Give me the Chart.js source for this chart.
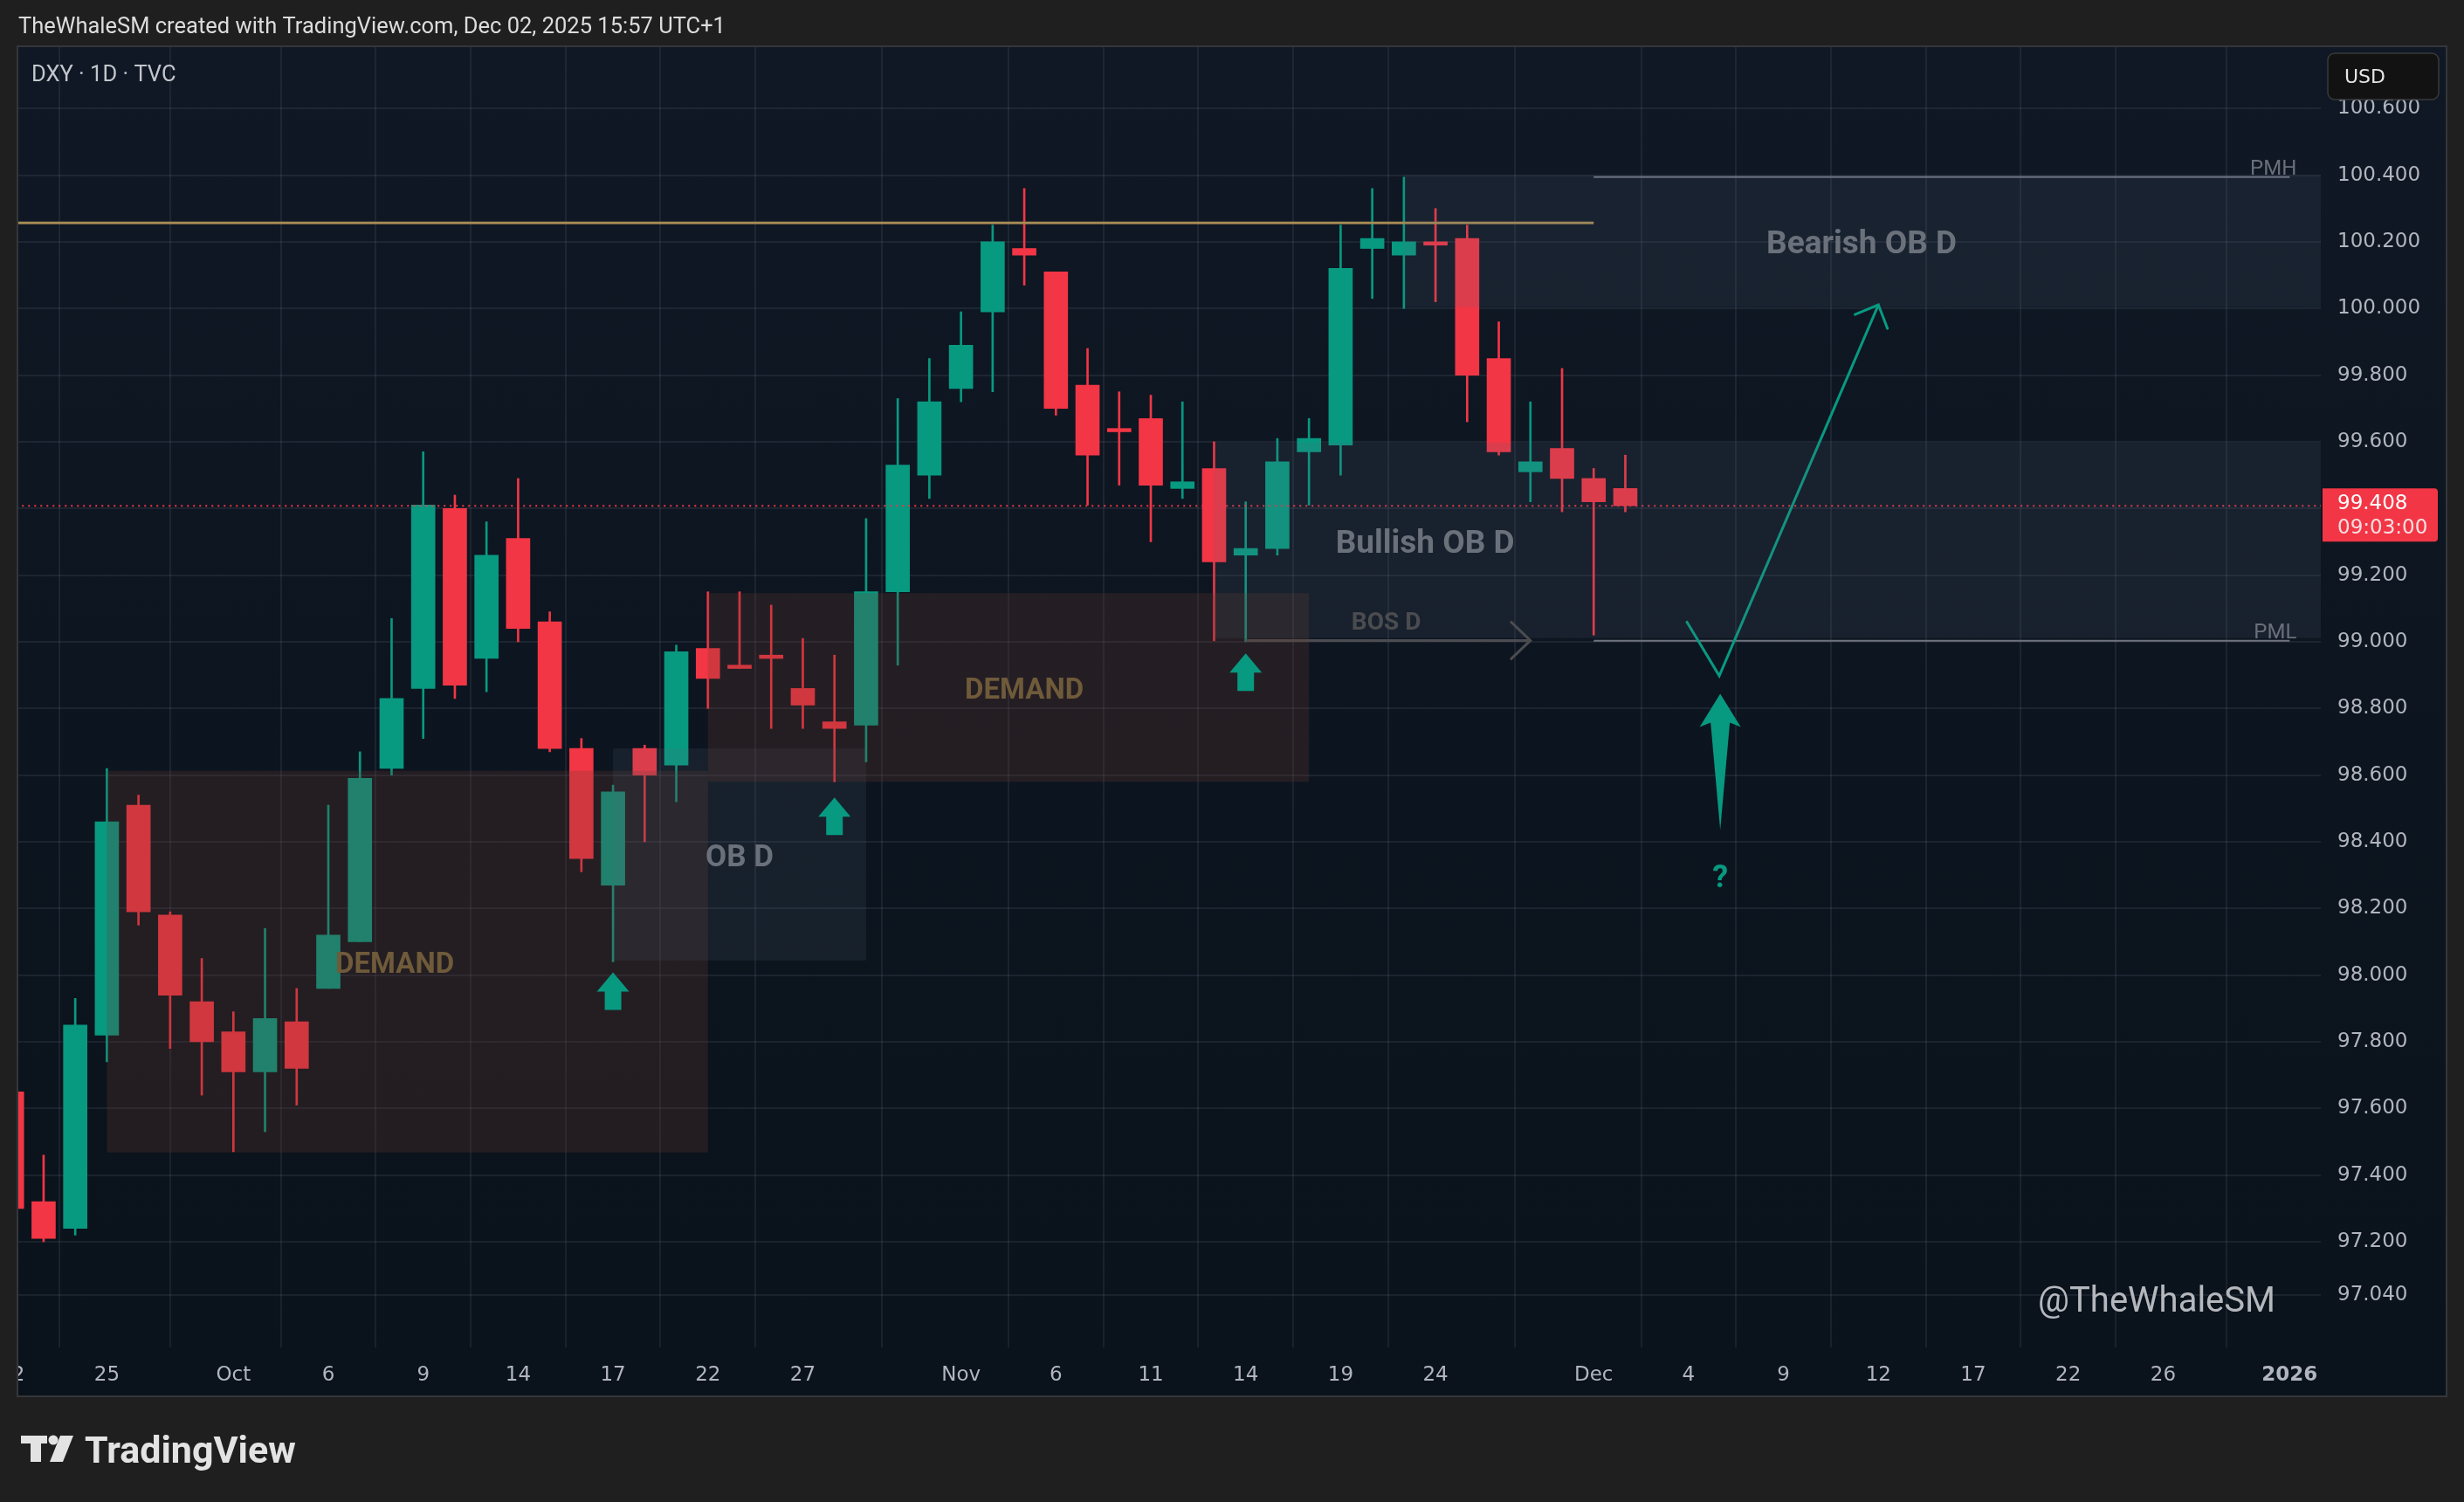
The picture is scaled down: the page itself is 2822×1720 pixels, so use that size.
<!DOCTYPE html>
<html><head><meta charset="utf-8">
<style>html,body{margin:0;padding:0;background:#1f1f1f;overflow:hidden}canvas{display:block}</style>
<script src="https://cdn.jsdelivr.net/npm/chart.js@4.4.1/dist/chart.umd.min.js"></script>
</head><body>
<canvas id="c" width="2822" height="1720" style="width:2822px;height:1720px"></canvas>
<script>
// ---------- DATA ----------
const dates = ['2025-09-22','2025-09-23','2025-09-24','2025-09-25','2025-09-26','2025-09-29','2025-09-30','2025-10-01','2025-10-02','2025-10-03',
 '2025-10-06','2025-10-07','2025-10-08','2025-10-09','2025-10-10','2025-10-13','2025-10-14','2025-10-15','2025-10-16','2025-10-17',
 '2025-10-20','2025-10-21','2025-10-22','2025-10-23','2025-10-24','2025-10-27','2025-10-28','2025-10-29','2025-10-30','2025-10-31',
 '2025-11-03','2025-11-04','2025-11-05','2025-11-06','2025-11-07','2025-11-10','2025-11-11','2025-11-12','2025-11-13','2025-11-14',
 '2025-11-17','2025-11-18','2025-11-19','2025-11-20','2025-11-21','2025-11-24','2025-11-25','2025-11-26','2025-11-27','2025-11-28',
 '2025-12-01','2025-12-02'];
const open  = [97.65,97.32,97.24,97.82,98.51,98.18,97.92,97.83,97.71,97.86, 97.96,98.10,98.62,98.86,99.40,98.95,99.31,99.06,98.68,98.27,
 98.68,98.63,98.98,98.93,98.96,98.86,98.76,98.75,99.15,99.50, 99.76,99.99,100.18,100.11,99.77,99.64,99.67,99.46,99.52,99.26,
 99.28,99.57,99.59,100.18,100.16,100.20,100.21,99.85,99.51,99.58, 99.49,99.46];
const high  = [97.70,97.46,97.93,98.62,98.54,98.19,98.05,97.89,98.14,97.96, 98.51,98.67,99.07,99.57,99.44,99.36,99.49,99.09,98.71,98.57,
 98.69,98.99,99.15,99.15,99.11,99.01,98.96,99.37,99.73,99.85, 99.99,100.25,100.36,100.11,99.88,99.75,99.74,99.72,99.60,99.42,
 99.61,99.67,100.25,100.36,100.394,100.30,100.25,99.96,99.72,99.82, 99.52,99.56];
const low   = [97.25,97.20,97.22,97.74,98.15,97.78,97.64,97.47,97.53,97.61, 97.96,98.10,98.60,98.71,98.83,98.85,99.00,98.67,98.31,98.04,
 98.40,98.52,98.80,98.92,98.74,98.74,98.58,98.64,98.93,99.43, 99.72,99.75,100.07,99.68,99.41,99.47,99.30,99.43,99.003,99.00,
 99.26,99.41,99.50,100.03,100.00,100.02,99.66,99.56,99.42,99.39, 99.02,99.39];
const close = [97.30,97.21,97.85,98.46,98.19,97.94,97.80,97.71,97.87,97.72, 98.12,98.59,98.83,99.41,98.87,99.26,99.04,98.68,98.35,98.55,
 98.60,98.97,98.89,98.92,98.95,98.81,98.74,99.15,99.53,99.72, 99.89,100.20,100.16,99.70,99.56,99.63,99.47,99.48,99.24,99.28,
 99.54,99.61,100.12,100.21,100.20,100.19,99.80,99.57,99.54,99.49, 99.42,99.408];

const timeTickIndex  = [0,3,7,10,13,16,19,22,25,30,33,36,39,42,45,50,53,56,59,62,65,68,72];
const timeTickLabels = ['22','25','Oct','6','9','14','17','22','27','Nov','6','11','14','19','24','Dec','4','9','12','17','22','26','2026'];
const priceTicks = [100.6,100.4,100.2,100.0,99.8,99.6,99.4,99.2,99.0,98.8,98.6,98.4,98.2,98.0,97.8,97.6,97.4,97.2,97.04];
const lastPrice = 99.408;
const countdown = '09:03:00';

// levels / drawings (data coordinates: x = trading-day index, y = price)
const resistanceX = [-2, 50], resistanceY = [100.257, 100.257];
const pmhX = [50, 72], pmhY = [100.394, 100.394];
const pmlX = [50, 72], pmlY = [99.003, 99.003];
const bosX = [39, 48], bosY = [99.004, 99.004];
const pathX = [52.93, 53.97, 59.0], pathY = [99.062, 98.898, 100.011];
const zoneNames = ['DEMAND','OB D','DEMAND','Bullish OB D','Bearish OB D'];
const zoneX0 = [3, 19, 22, 38, 44];
const zoneX1 = [22, 27, 41, 80, 80];
const zoneLow  = [97.468, 98.044, 98.580, 99.011, 100.004];
const zoneHigh = [98.613, 98.680, 99.146, 99.597, 100.400];
const zoneTextX = [12.1, 23.0, 32.0, 44.67, 58.47];
const zoneKind = ['demand','ob','demand','ob','ob'];
const arrowX = [19, 26, 39], arrowTipY = [98.008, 98.533, 98.965];
const bigArrowX = 54, bigArrowTip = 98.844, bigArrowTail = 98.435, questionY = 98.30;

// ---------- STYLE ----------
const GREEN = '#089981', RED = '#f23645';
const GRID = 'rgba(128,140,160,0.13)';
const AXIS_TXT = '#b2b5be';
const zoneFontSize = [33, 35, 33, 37, 37];
const X_MIN = 0.1736, X_MAX = 72.985, Y_MIN = 96.883, Y_MAX = 100.784;

const idx = dates.map((d, i) => i);
const candleColor = idx.map(i => close[i] >= open[i] ? GREEN : RED);
const bodyData = idx.map(i => ({x: i, y: [open[i], close[i]]}));
const wickData = idx.map(i => ({x: i, y: [low[i], high[i]]}));
const pts = (xs, ys) => xs.map((x, i) => ({x, y: ys[i]}));

const deco = {
  id: 'deco',
  beforeDraw(chart) {
    const c = chart.ctx;
    c.save();
    c.fillStyle = '#1f1f1f'; c.fillRect(0, 0, 2822, 1720);
    const g = c.createLinearGradient(0, 53, 0, 1598);
    g.addColorStop(0, '#0f1824'); g.addColorStop(1, '#0a121b');
    c.fillStyle = g; c.fillRect(20, 53, 2782, 1545);
    c.restore();
  },
  afterDatasetsDraw(chart) {
    const c = chart.ctx, xs = chart.scales.x, ys = chart.scales.y, a = chart.chartArea;
    const X = v => xs.getPixelForValue(v), Y = v => ys.getPixelForValue(v);
    c.save();
    c.beginPath(); c.rect(a.left, a.top, a.right - a.left, a.bottom - a.top); c.clip();
    // zones
    zoneNames.forEach((n, k) => {
      c.fillStyle = zoneKind[k] === 'demand' ? 'rgba(109,58,49,0.25)' : 'rgba(90,104,128,0.14)';
      const x0 = X(zoneX0[k]), x1 = X(zoneX1[k]), y0 = Y(zoneHigh[k]), y1 = Y(zoneLow[k]);
      c.fillRect(x0, y0, x1 - x0, y1 - y0);
    });
    zoneNames.forEach((n, k) => {
      c.fillStyle = zoneKind[k] === 'demand' ? '#6f5a3a' : '#6b717b';
      c.font = 'bold ' + zoneFontSize[k] + 'px Roboto';
      c.textAlign = 'center'; c.textBaseline = 'middle';
      c.fillText(n, X(zoneTextX[k]), Y((zoneLow[k] + zoneHigh[k]) / 2) + 5);
    });
    // BOS label + chevron
    c.fillStyle = '#4b4c50'; c.font = 'bold 28px Roboto'; c.textAlign = 'center'; c.textBaseline = 'middle';
    c.fillText('BOS D', X(43.44), Y(99.061) + 2);
    c.strokeStyle = '#4b4c50'; c.lineWidth = 3; c.lineCap = 'round';
    const bx = X(bosX[1]), by = Y(bosY[1]);
    c.beginPath(); c.moveTo(bx - 22, by - 21); c.lineTo(bx, by); c.lineTo(bx - 22, by + 21); c.stroke();
    // PMH / PML labels
    c.fillStyle = '#6a6f7a'; c.font = '24px Roboto'; c.textAlign = 'right'; c.textBaseline = 'alphabetic';
    c.fillText('PMH', X(pmhX[1]) + 8, Y(pmhY[0]) - 3);
    c.fillText('PML', X(pmlX[1]) + 8, Y(pmlY[0]) - 3);
    // prediction arrowhead
    const ex = X(pathX[2]), ey = Y(pathY[2]), sx = X(pathX[1]), sy = Y(pathY[1]);
    const ang = Math.atan2(sy - ey, sx - ex);
    c.strokeStyle = GREEN; c.lineWidth = 3;
    c.beginPath();
    c.moveTo(ex + 29 * Math.cos(ang + 0.77), ey + 29 * Math.sin(ang + 0.77));
    c.lineTo(ex, ey);
    c.lineTo(ex + 29 * Math.cos(ang - 0.77), ey + 29 * Math.sin(ang - 0.77));
    c.stroke();
    // small up arrows
    c.fillStyle = GREEN;
    arrowX.forEach((ax, k) => {
      const px = X(ax), py = Y(arrowTipY[k]);
      c.beginPath();
      c.moveTo(px, py); c.lineTo(px + 18.5, py + 22); c.lineTo(px + 9.5, py + 22); c.lineTo(px + 9.5, py + 43);
      c.lineTo(px - 9.5, py + 43); c.lineTo(px - 9.5, py + 22); c.lineTo(px - 18.5, py + 22); c.closePath(); c.fill();
    });
    // big arrow
    const tx = X(bigArrowX), ty = Y(bigArrowTip), tb = Y(bigArrowTail);
    c.beginPath();
    c.moveTo(tx, ty); c.lineTo(tx + 23.5, ty + 38); c.lineTo(tx + 11, ty + 33); c.lineTo(tx, tb);
    c.lineTo(tx - 11, ty + 33); c.lineTo(tx - 23.5, ty + 38); c.closePath(); c.fill();
    c.font = 'bold 36px Roboto'; c.textAlign = 'center'; c.textBaseline = 'middle';
    c.fillText('?', tx, Y(questionY) + 5);
    // watermark
    c.fillStyle = '#b4b8bd'; c.font = '40px Roboto'; c.textAlign = 'right'; c.textBaseline = 'middle';
    c.fillText('@TheWhaleSM', 2606, 1492);
    c.restore();
  },
  afterDraw(chart) {
    const c = chart.ctx, ys = chart.scales.y;
    c.save();
    // clip left margin
    c.fillStyle = '#1f1f1f'; c.fillRect(0, 40, 20, 1580);
    // panel border
    c.strokeStyle = '#34363a'; c.lineWidth = 2; c.strokeRect(20, 53, 2782, 1546);
    // header + legend
    c.textBaseline = 'middle'; c.textAlign = 'left';
    c.fillStyle = '#dcdcdc'; c.font = '25.5px Roboto';
    c.fillText('TheWhaleSM created with TradingView.com, Dec 02, 2025 15:57 UTC+1', 21, 32);
    c.fillStyle = '#c3c6cc'; c.font = '25.5px Roboto';
    c.fillText('DXY \u00b7 1D \u00b7 TVC', 36, 87);
    // last price label
    const py = ys.getPixelForValue(lastPrice);
    c.fillStyle = RED;
    c.beginPath(); c.roundRect(2660, py - 20, 132, 61, [0, 4, 4, 0]); c.fill();
    c.fillStyle = '#ffffff'; c.font = '23px "DejaVu Sans"';
    c.fillText(lastPrice.toFixed(3), 2677, py - 2);
    c.fillStyle = '#f7dfe1';
    c.fillText(countdown, 2677, py + 26);
    // USD box
    c.fillStyle = '#121212'; c.strokeStyle = '#3a3a3a'; c.lineWidth = 1.5;
    c.beginPath(); c.roundRect(2666, 61, 127, 53, 8); c.fill(); c.stroke();
    c.fillStyle = '#e6e6e6'; c.font = '22px "DejaVu Sans"';
    c.fillText('USD', 2685, 89);
    // footer logo
    c.fillStyle = '#e3e3e3';
    c.fillRect(24, 1644, 30, 9);
    c.fillRect(35, 1644, 12, 30);
    c.beginPath(); c.arc(61, 1649, 5.5, 0, Math.PI * 2); c.fill();
    c.beginPath(); c.moveTo(69, 1644); c.lineTo(84, 1644); c.lineTo(72, 1674); c.lineTo(57, 1674); c.closePath(); c.fill();
    c.font = 'bold 43px Roboto'; c.textBaseline = 'alphabetic';
    c.fillText('TradingView', 97, 1675);
    c.restore();
  }
};

new Chart(document.getElementById('c').getContext('2d'), {
  type: 'bar',
  data: {
    datasets: [
      {label: 'body', data: bodyData, backgroundColor: candleColor, barThickness: 27, minBarLength: 3, grouped: false, order: 2, borderWidth: 0},
      {label: 'wick', data: wickData, backgroundColor: candleColor, barThickness: 2, grouped: false, order: 3, borderWidth: 0},
      {type: 'line', label: 'resistance', data: pts(resistanceX, resistanceY), borderColor: '#a68a54', borderWidth: 3, pointRadius: 0, order: 1},
      {type: 'line', label: 'price', data: pts([-2, 80], [lastPrice, lastPrice]), borderColor: RED, borderWidth: 2, borderDash: [2, 5], pointRadius: 0, order: 1},
      {type: 'line', label: 'PMH', data: pts(pmhX, pmhY), borderColor: '#6f7480', borderWidth: 2, pointRadius: 0, order: 1},
      {type: 'line', label: 'PML', data: pts(pmlX, pmlY), borderColor: '#6f7480', borderWidth: 2, pointRadius: 0, order: 1},
      {type: 'line', label: 'BOS', data: pts(bosX, bosY), borderColor: '#4b4c50', borderWidth: 3, pointRadius: 0, order: 1},
      {type: 'line', label: 'path', data: pts(pathX, pathY), borderColor: GREEN, borderWidth: 3, pointRadius: 0, tension: 0, order: 0}
    ]
  },
  options: {
    responsive: false, devicePixelRatio: 1, animation: false,
    layout: {padding: {left: 20, top: 54, right: 20, bottom: 122}},
    plugins: {legend: {display: false}, tooltip: {enabled: false}},
    scales: {
      x: {
        type: 'linear', min: X_MIN, max: X_MAX, offset: false,
        afterBuildTicks: s => { s.ticks = timeTickIndex.map(v => ({value: v})); },
        afterFit: s => { s.height = 55; s.paddingLeft = 0; s.paddingRight = 0; },
        grid: {color: GRID, lineWidth: 2, drawTicks: false},
        border: {display: false},
        ticks: {
          autoSkip: false, maxRotation: 0, minRotation: 0, padding: 18, color: AXIS_TXT,
          font: ctx => ({family: 'DejaVu Sans', size: 23, weight: (ctx.tick && ctx.tick.value === 72) ? 'bold' : 'normal'}),
          callback: v => { const k = timeTickIndex.indexOf(v); return k >= 0 ? timeTickLabels[k] : ''; }
        }
      },
      y: {
        type: 'linear', position: 'right', min: Y_MIN, max: Y_MAX,
        afterBuildTicks: s => { s.ticks = priceTicks.map(v => ({value: v})); },
        afterFit: s => { s.width = 144; s.paddingTop = 0; s.paddingBottom = 0; },
        grid: {color: GRID, lineWidth: 2, drawTicks: false},
        border: {display: false},
        ticks: {
          padding: 19, color: AXIS_TXT, font: {family: 'DejaVu Sans', size: 23},
          callback: v => Math.abs(v - 99.4) < 1e-6 ? '' : v.toFixed(3)
        }
      }
    }
  },
  plugins: [deco]
});
</script>
</body></html>
